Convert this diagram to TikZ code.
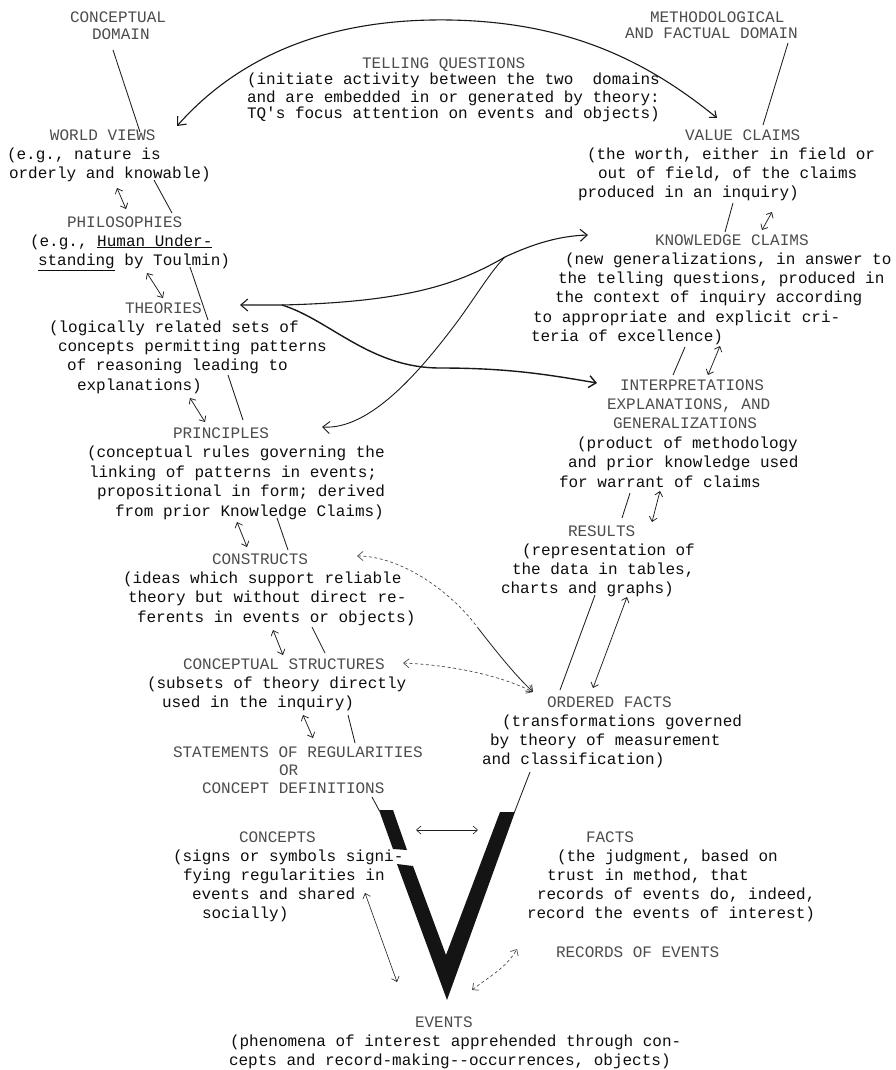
\documentclass[tikz,border=0pt]{standalone}
\usepackage{fontspec}
\setmonofont{Liberation Mono}
\usetikzlibrary{arrows.meta}
\newcommand{\ttl}[1]{{\color{black!70}#1}}
\newcommand{\ind}[1]{\hspace*{#1pt}}
\tikzset{BigTip/.tip={Straight Barb[length=7pt,width=12pt]},
         SmTip/.tip={Straight Barb[length=5.5pt,width=9pt]}}
\begin{document}
\begin{tikzpicture}[x=1pt,y=-1pt,
  txt/.style={anchor=base west, inner sep=0pt, outer sep=0pt, align=left, text=black!95,
     font=\ttfamily\frenchspacing\fontsize{16}{#1}\selectfont},
  txt/.default=19,
  link/.style={line width=0.85pt, draw=black!88},
  dbl/.style={line width=0.75pt, draw=black!88, {Straight Barb[length=4.5pt,width=8pt]}-{Straight Barb[length=4.5pt,width=8pt]}},
  bigarr/.style={line width=1.1pt, draw=black!90},
  dsh/.style={line width=0.7pt, draw=black!70, dash pattern=on 3pt off 2.5pt},
  vee/.style={fill=black!92, draw=none}
]
\fill[white] (0,0) rectangle (896,1070);
\useasboundingbox (0,0) rectangle (896,1070);

% ---------- text blocks (positioned at the baseline of their last line) ----------
\node[txt=17] (cd) at (70,40) {\ttl{CONCEPTUAL}\\\ind{22}\ttl{DOMAIN}};
\node[txt=16] (md) at (625,39) {\ind{25}\ttl{METHODOLOGICAL}\\\ttl{AND FACTUAL DOMAIN}};
\node[txt=17] (tq) at (247,119) {\ind{115}\ttl{TELLING QUESTIONS}\\(initiate activity between the two~ domains\\and are embedded in or generated by theory:\\TQ\textquotesingle s focus attention on events and objects)};
\node[txt] (wv) at (7,178) {\ind{43}\ttl{WORLD VIEWS}\\(e.g., nature is\\\ind{2}orderly and knowable)};
\node[txt] (ph) at (30,265) {\ind{37}\ttl{PHILOSOPHIES}\\(e.g., \underline{Human Under-}\\\ind{8}\underline{standing} by Toulmin)};
\node[txt=19.25] (th) at (49,390) {\ind{76}\ttl{THEORIES}\\(logically related sets of\\\ind{9}concepts permitting patterns\\\ind{18}of reasoning leading to\\\ind{28}explanations)};
\node[txt=19.5] (pr) at (87,516) {\ind{86}\ttl{PRINCIPLES}\\(conceptual rules governing the\\\ind{2}linking of patterns in events;\\\ind{10}propositional in form; derived\\\ind{28}from prior Knowledge Claims)};
\node[txt=19.3] (cs) at (123,622) {\ind{89}\ttl{CONSTRUCTS}\\(ideas which support reliable\\\ind{5}theory but without direct re-\\\ind{14}ferents in events or objects)};
\node[txt] (cst) at (147,707) {\ind{36}\ttl{CONCEPTUAL STRUCTURES}\\(subsets of theory directly\\\ind{15}used in the inquiry)};
\node[txt=18] (sr) at (173,793) {\ttl{STATEMENTS OF REGULARITIES}\\\ind{106}\ttl{OR}\\\ind{29}\ttl{CONCEPT DEFINITIONS}};
\node[txt] (co) at (173,918) {\ind{66}\ttl{CONCEPTS}\\(signs or symbols signi-\\\ind{10}fying regularities in\\\ind{19}events and shared\\\ind{29}socially)};
\node[txt] (ev) at (229,1065) {\ind{186}\ttl{EVENTS}\\\ind{1}(phenomena of interest apprehended through con-\\cepts and record-making-\kern0pt-occurrences, objects)};
\node[txt] (fa) at (527,918) {\ind{59}\ttl{FACTS}\\\ind{30}(the judgment, based on\\\ind{20}trust in method, that\\\ind{10}records of events do, indeed,\\record the events of interest)};
\node[txt] (re) at (556,957) {\ttl{RECORDS OF EVENTS}};
\node[txt] (of) at (482,764) {\ind{65}\ttl{ORDERED FACTS}\\\ind{20}(transformations governed\\\ind{8}by theory of measurement\\and classification)};
\node[txt] (rs) at (501,593) {\ind{67}\ttl{RESULTS}\\\ind{21}(representation of\\\ind{11}the data in tables,\\charts and graphs)};
\node[txt=19.4] (ie) at (559,487) {\ind{61}\ttl{INTERPRETATIONS}\\\ind{48}\ttl{EXPLANATIONS, AND}\\\ind{54}\ttl{GENERALIZATIONS}\\\ind{18}(product of methodology\\\ind{9}and prior knowledge used\\for warrant of claims};
\node[txt=19.3] (kc) at (531,341.5) {\ind{124}\ttl{KNOWLEDGE CLAIMS}\\\ind{34}(new generalizations, in answer to\\\ind{27}the telling questions, produced in\\\ind{24}the context of inquiry according\\\ind{2}to appropriate and explicit cri-\\teria of excellence)};
\node[txt] (vc) at (578,197) {\ind{107}\ttl{VALUE CLAIMS}\\\ind{9}(the worth, either in field or\\\ind{20}out of field, of the claims\\produced in an inquiry)};

% ---------- the V ----------
\fill[vee] (379,810) -- (393,810) -- (407,850) -- (393,849) -- cycle;
\fill[vee] (397,864) -- (413,866) -- (446,955) -- (500,812) -- (515,812) -- (447,1000) -- cycle;

% ---------- connector end points ----------
\coordinate (cd-a) at (113,50);   \coordinate (wv-a) at (140,132);
\coordinate (wv-b) at (154,180);  \coordinate (ph-a) at (172,213);
\coordinate (ph-b) at (190,267);  \coordinate (th-a) at (208,320);
\coordinate (th-b) at (228,375);  \coordinate (pr-a) at (243,420);
\coordinate (pr-b) at (277,518);  \coordinate (cs-a) at (288,550);
\coordinate (cs-b) at (312,627);  \coordinate (cst-a) at (325,653);
\coordinate (cst-b) at (348,715); \coordinate (sr-a) at (355,743);
\coordinate (sr-b) at (372,797);  \coordinate (v-l) at (379.5,811);
\coordinate (md-a) at (788,43);   \coordinate (vc-a) at (763,125);
\coordinate (vc-b) at (733,203);  \coordinate (kc-a) at (725,232);
\coordinate (kc-b) at (685,347);  \coordinate (ie-a) at (673,375);
\coordinate (ie-b) at (630,493);  \coordinate (rs-a) at (622,518);
\coordinate (rs-b) at (595,595);  \coordinate (of-a) at (560,690);
\coordinate (of-b) at (530,772);  \coordinate (v-r) at (514.5,812);

% ---------- plain links ----------
\draw[link] (cd-a) -- (wv-a);
\draw[link] (wv-b) -- (ph-a);
\draw[link] (ph-b) -- (th-a);
\draw[link] (th-b) -- (pr-a);
\draw[link] (pr-b) -- (cs-a);
\draw[link] (cs-b) -- (cst-a);
\draw[link] (cst-b) -- (sr-a);
\draw[link] (sr-b) -- (v-l);
\draw[link] (md-a) -- (vc-a);
\draw[link] (vc-b) -- (kc-a);
\draw[link] (kc-b) -- (ie-a);
\draw[link] (ie-b) -- (rs-a);
\draw[link] (rs-b) -- (of-a);
\draw[link] (of-b) -- (v-r);

% ---------- short double arrows ----------
\coordinate (wv-c) at (117,188);  \coordinate (ph-c) at (126,209);
\coordinate (ph-d) at (147,273);  \coordinate (th-c) at (163,298);
\coordinate (th-d) at (190,398);  \coordinate (pr-c) at (205,422);
\coordinate (pr-d) at (237,522);  \coordinate (cs-c) at (247,547);
\coordinate (cs-d) at (273,630);  \coordinate (cst-c) at (283,655);
\coordinate (cst-d) at (303,715); \coordinate (sr-c) at (313,738);
\coordinate (co-c) at (365,893);  \coordinate (ev-c) at (397,982);
\coordinate (vc-c) at (772,212);  \coordinate (kc-c) at (762,230);
\coordinate (kc-d) at (720,346);  \coordinate (ie-c) at (708,375);
\coordinate (ie-d) at (660,491);  \coordinate (rs-c) at (652,522);
\coordinate (rs-d) at (627,597);  \coordinate (of-c) at (593,688);
\coordinate (cv-l) at (416,830);  \coordinate (cv-r) at (478,830);

\draw[dbl] (wv-c) -- (ph-c);
\draw[dbl] (ph-d) -- (th-c);
\draw[dbl] (th-d) -- (pr-c);
\draw[dbl] (pr-d) -- (cs-c);
\draw[dbl] (cs-d) -- (cst-c);
\draw[dbl] (cst-d) -- (sr-c);
\draw[dbl, line width=0.6pt] (co-c) -- (ev-c);
\draw[dbl] (vc-c) -- (kc-c);
\draw[dbl] (kc-d) -- (ie-c);
\draw[dbl] (ie-d) -- (rs-c);
\draw[dbl] (rs-d) -- (of-c);
\draw[dbl, line width=0.6pt] (cv-l) -- (cv-r);

% records <-> events (dashed)
\coordinate (ev-d) at (472,990); \coordinate (re-a) at (517,949);
\draw[dsh, {Straight Barb[length=5pt,width=9pt]}-{Straight Barb[length=5pt,width=9pt]}] (ev-d) .. controls (490,976) and (506,968) .. (re-a);

% ---------- telling questions arc ----------
\coordinate (tq-l) at (177,126); \coordinate (tq-t) at (450,20); \coordinate (tq-r) at (717,118);
\draw[bigarr, {BigTip}-{SmTip}] (tq-l) .. controls (240,55) and (330,18) .. (tq-t) .. controls (560,22) and (640,55) .. (tq-r);

% ---------- theories / principles arrows ----------
\coordinate (th-r) at (240,305); \coordinate (brp) at (282,305);
\coordinate (kc-l) at (588,235); \coordinate (mg) at (505,257);
\coordinate (ie-l) at (597,383); \coordinate (pr-r) at (322,427);
\draw[bigarr, {BigTip}-{BigTip}] (th-r) -- (brp) .. controls (410,302) and (460,283) .. (mg) .. controls (535,243) and (560,236) .. (kc-l);
\draw[bigarr, line width=1.4pt, -{BigTip}] (brp) .. controls (330,320) and (370,368) .. (440,368) .. controls (510,368) and (550,375) .. (ie-l);
\draw[bigarr, line width=0.9pt, {BigTip}-] (pr-r) .. controls (370,430) and (420,372) .. (460,318) .. controls (480,290) and (492,270) .. (mg);

% ---------- dashed arrows to ordered facts ----------
\coordinate (cs-r) at (357,556); \coordinate (dj) at (478,628);
\coordinate (of-l) at (533,692); \coordinate (cst-r) at (403,663);
\draw[dsh, {SmTip}-] (cs-r) .. controls (400,556) and (450,590) .. (dj);
\draw[link, line width=0.8pt, -{SmTip}] (dj) .. controls (495,650) and (515,675) .. (of-l);
\draw[dsh, {SmTip}-{SmTip}] (cst-r) .. controls (450,665) and (500,675) .. (of-l);
\end{tikzpicture}
\end{document}
